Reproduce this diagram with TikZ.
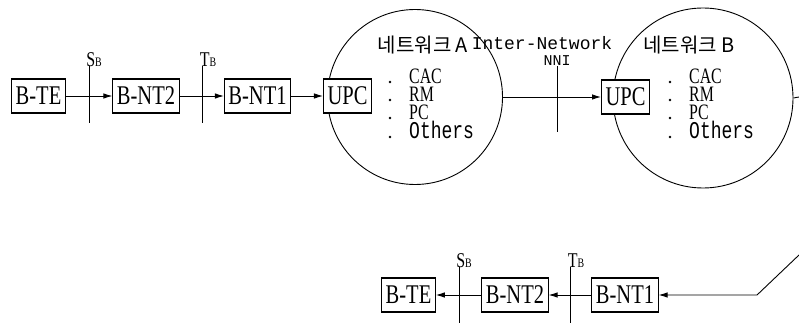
\documentclass[tikz,border=0pt]{standalone}
\usepackage{fontspec}
\setmainfont{Liberation Serif}
\newfontfamily\boxfont[FakeStretch=0.76]{Liberation Serif}
\newfontfamily\itemfont[FakeStretch=0.72]{Liberation Serif}
\newfontfamily\othersfont[FakeStretch=0.75]{Liberation Mono}
\newfontfamily\netmono{Liberation Mono}
\newfontfamily\krfont{Noto Sans CJK KR}
\usetikzlibrary{arrows.meta,positioning,calc}

% reference point label: letter with small B
\newcommand{\refpt}[1]{#1\raisebox{-0.5pt}{\fontsize{13}{13}\selectfont B}}

\begin{document}
\begin{tikzpicture}[
  x=1pt, y=-1pt,
  >={Latex[length=9pt,width=5.5pt]},
  blk/.style={draw, line width=1.1pt, fill=white, minimum height=34pt, inner xsep=4pt, inner ysep=0pt, font=\boxfont\fontsize{27}{27}\selectfont},
  net/.style={draw, circle, line width=0.9pt, inner sep=0pt},
  sig/.style={line width=0.9pt},
  reflab/.style={inner sep=0pt, anchor=south, font=\boxfont\fontsize{21}{21}\selectfont},
  nettitle/.style={inner sep=0pt, font=\krfont\fontsize{20}{20}\selectfont},
  listitem/.style={inner sep=0pt, anchor=base west, text height=13pt, text depth=0.5pt},
  listdot/.style={circle, fill, inner sep=0pt, minimum size=2.6pt}
]
\useasboundingbox (0,0) rectangle (799,323);

% networks
\node[net, minimum size=175pt] (netA) at (415,97) {};
\node[net, minimum size=180pt] (netB) at (703,98) {};
\node[nettitle] (titA) at (423,45) {네트워크 A};
\node[nettitle] (titB) at (689,45) {네트워크 B};

\foreach \cx/\nm in {390/A,670/B} {
  \foreach \lab/\y [count=\i] in {{\itemfont\fontsize{22}{22}\selectfont CAC}/84,
                                  {\itemfont\fontsize{22}{22}\selectfont RM}/102,
                                  {\itemfont\fontsize{22}{22}\selectfont PC}/120,
                                  {\othersfont\fontsize{24}{24}\selectfont Others}/139} {
    \node[listdot] (dot\nm\i) at (\cx,\y-2) {};
    \node[listitem] (item\nm\i) at (\cx+19,\y) {\lab};
  }
}

% upper row
\node[blk] (bte) at (38.5,96) {B-TE};
\node[blk] (bnt2) at (146,96) {B-NT2};
\node[blk] (bnt1) at (257.5,96) {B-NT1};
\node[blk, minimum width=45pt] (upcA) at (347.5,96) {UPC};
\node[blk, minimum width=45pt] (upcB) at (625.5,97) {UPC};

\draw[sig,->] (bte) -- (bnt2);
\draw[sig,->] (bnt2) -- (bnt1);
\draw[sig,->] (bnt1) -- (upcA);
\draw[sig,->] (netA.east) -- (upcB.west);
\coordinate (outB) at (799,97);
\draw[sig] (netB.east) -- (outB);

\coordinate (sA) at (89,66);
\node[reflab] (sAlab) at ($(sA)+(5,1)$) {\refpt{S}};
\draw[sig] (sA) -- ++(0,57);
\coordinate (tA) at (202,66);
\node[reflab] (tAlab) at ($(tA)+(6,1)$) {\refpt{T}};
\draw[sig] (tA) -- ++(0,57);

\node[inner sep=0pt, font=\netmono\fontsize{18}{18}\selectfont] (inw) at (542,43) {Inter-Network};
\node[inner sep=0pt, font=\netmono\fontsize{15}{15}\selectfont] (nni) at (557,61) {NNI};
\draw[sig] (nni.south) -- ++(0,66);

% lower row
\node[blk] (bte2) at (408.5,295) {B-TE};
\node[blk] (bnt2b) at (515,295) {B-NT2};
\node[blk] (bnt1b) at (625,295) {B-NT1};

\coordinate (inB) at (799,255);
\coordinate (bendB) at (757,295);
\draw[sig,->] (inB) -- (bendB) -- (bnt1b.east);
\draw[sig,->] (bnt1b) -- (bnt2b);
\draw[sig,->] (bnt2b) -- (bte2);

\coordinate (sC) at (459,267);
\node[reflab] (sClab) at ($(sC)+(5,1)$) {\refpt{S}};
\draw[sig] (sC) -- ++(0,58);
\coordinate (tC) at (570,267);
\node[reflab] (tClab) at ($(tC)+(6,1)$) {\refpt{T}};
\draw[sig] (tC) -- ++(0,58);

\end{tikzpicture}
\end{document}
